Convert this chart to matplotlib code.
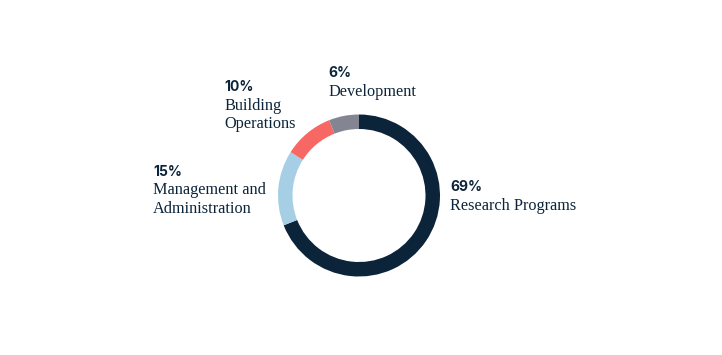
import matplotlib.pyplot as plt

# ============================================================
# data
# ============================================================
categories = ["Research Programs", "Management and\nAdministration",
              "Building\nOperations", "Development"]
shares = [69, 15, 10, 6]
colors = ["#0b2439", "#a6cfe6", "#f76864", "#838593"]

# label anchors in pixel coords (x, y of the percent line)
label_pos = [(450, 187), (153, 172), (224, 87), (328, 73)]

W, H = 722, 355
text_color = "#0b2439"

fig = plt.figure(figsize=(W / 100, H / 100), dpi=100)
ax = fig.add_axes([0, 0, 1, 1])

ax.pie(
    shares,
    colors=colors,
    startangle=90,
    counterclock=False,
    center=(359, H - 195.5),
    radius=81,
    wedgeprops=dict(width=14.5, linewidth=0),
)

ax.set_xlim(0, W)
ax.set_ylim(0, H)
ax.set_aspect("equal")
ax.axis("off")

for cat, val, (x, y) in zip(categories, shares, label_pos):
    ax.text(x, H - y, f"{val}%", ha="left", va="center",
            fontsize=10, fontweight="bold", family="Inter",
            color=text_color)
    for i, line in enumerate(cat.split("\n")):
        ax.text(x, H - (y + 18.5 * (i + 1)), line, ha="left", va="center",
                fontsize=11.7, family="Liberation Serif",
                color=text_color)

fig.savefig("out.png", dpi=100)
